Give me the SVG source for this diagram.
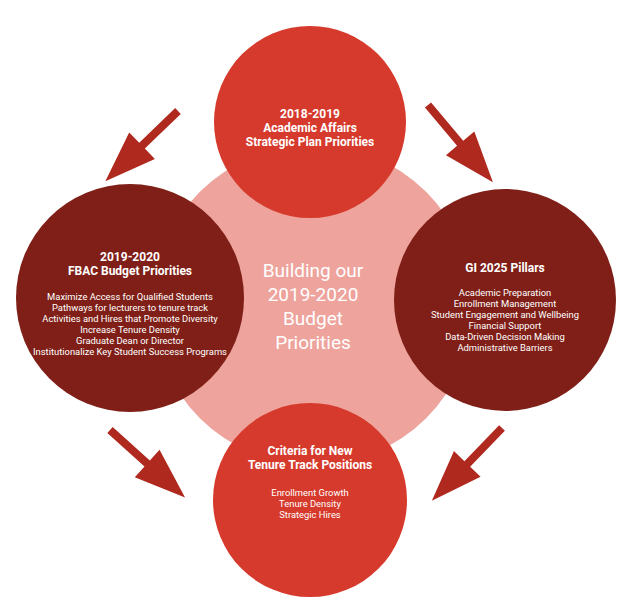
<svg xmlns="http://www.w3.org/2000/svg" width="617" height="600" viewBox="0 0 617 600">
<style>
text{font-family:Roboto,"Liberation Sans",sans-serif;fill:#fff;text-anchor:middle}
.t{font-weight:bold;font-size:12px}
.i{font-size:9.4px}
.c{font-size:19px}
.arrow{fill:#b0291f}
</style>
<defs><polygon id="ar" points="0,-4 50,-4 50,-18.5 101,0 50,18.5 50,4 0,4"/></defs>
<rect width="617" height="600" fill="#fff"/>
<g id="center"><circle cx="313" cy="305" r="160" fill="#eea39d"/>
<text class="c" x="313" y="277">Building our</text><text class="c" x="313" y="301">2019-2020</text><text class="c" x="313" y="325">Budget</text><text class="c" x="313" y="349">Priorities</text></g>
<g id="top"><circle cx="310" cy="122" r="96" fill="#d63a2c"/>
<text class="t" x="310" y="118">2018-2019</text><text class="t" x="310" y="132">Academic Affairs</text><text class="t" x="310" y="146">Strategic Plan Priorities</text></g>
<g id="left"><circle cx="130" cy="298" r="114" fill="#7f1f18"/>
<text class="t" x="130" y="261">2019-2020</text><text class="t" x="130" y="275">FBAC Budget Priorities</text>
<text class="i" x="130" y="300">Maximize Access for Qualified Students</text><text class="i" x="130" y="311">Pathways for lecturers to tenure track</text><text class="i" x="130" y="322">Activities and Hires that Promote Diversity</text><text class="i" x="130" y="333">Increase Tenure Density</text><text class="i" x="130" y="344">Graduate Dean or Director</text><text class="i" x="130" y="355">Institutionalize Key Student Success Programs</text></g>
<g id="right"><circle cx="505" cy="300" r="111" fill="#7f1f18"/>
<text class="t" x="505" y="272">GI 2025 Pillars</text>
<text class="i" x="505" y="296">Academic Preparation</text><text class="i" x="505" y="307">Enrollment Management</text><text class="i" x="505" y="318">Student Engagement and Wellbeing</text><text class="i" x="505" y="329">Financial Support</text><text class="i" x="505" y="340">Data-Driven Decision Making</text><text class="i" x="505" y="351">Administrative Barriers</text></g>
<g id="bottom"><circle cx="310" cy="500" r="97" fill="#d63a2c"/>
<text class="t" x="310" y="455">Criteria for New</text><text class="t" x="310" y="469">Tenure Track Positions</text>
<text class="i" x="310" y="496">Enrollment Growth</text><text class="i" x="310" y="507">Tenure Density</text><text class="i" x="310" y="518">Strategic Hires</text></g>
<g id="connectors" class="arrow">
<use href="#ar" transform="translate(178,111) rotate(136)"/>
<use href="#ar" transform="translate(428,105) rotate(50)"/>
<use href="#ar" transform="translate(110,430) rotate(42)"/>
<use href="#ar" transform="translate(502,428) rotate(134)"/>
</g>
</svg>
